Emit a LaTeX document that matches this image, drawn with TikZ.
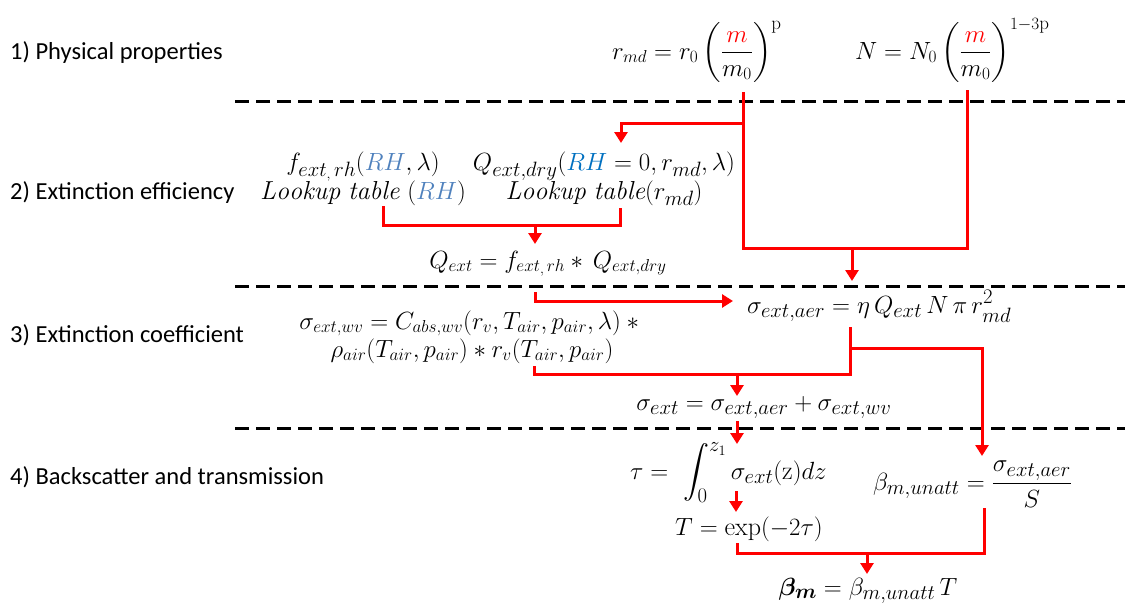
\documentclass[tikz,border=0pt]{standalone}
\usepackage{amsmath,amssymb,bm}
\usepackage{fontspec}
\newfontfamily\lblfont{Carlito}
\usetikzlibrary{arrows.meta}
\definecolor{rhA}{HTML}{4F81BD}
\definecolor{rhB}{HTML}{0070C0}
\DeclareMathSizes{26}{26}{20}{15}
\DeclareMathSizes{25}{25}{19}{14}
\newcommand{\lowcomma}{{\lower2pt\hbox{$\scriptscriptstyle,$}}}
\tikzset{
  lbl/.style={font=\lblfont\fontsize{24.5}{28}\selectfont, anchor=west, inner sep=0pt},
  eq/.style={font=\fontsize{26}{30}\selectfont, inner sep=0pt, anchor=base},
  eqw/.style={eq, anchor=base west},
  eqtwo/.style={font={\fontsize{26}{29}\selectfont\lineskiplimit=-30pt}, inner sep=0pt, align=center, anchor=center},
  sepline/.style={line width=3pt, dash pattern=on 14pt off 7pt},
  link/.style={red, line width=3pt, line join=miter},
  arr/.style={link, -{Triangle[width=13pt,length=11pt]}},
}
\begin{document}
\begin{tikzpicture}[x=1pt,y=-1pt]
\useasboundingbox (0,0) rectangle (1125,606);

% section labels
\node[lbl] (l1) at (10,53) {1) Physical properties};
\node[lbl] (l2) at (10,193) {2) Extinction efficiency};
\node[lbl] (l3) at (10,335) {3) Extinction coefficient};
\node[lbl] (l4) at (10,477) {4) Backscatter and transmission};

% separators
\coordinate (s1a) at (235,101); \coordinate (s1b) at (1125,101);
\coordinate (s2a) at (235,286); \coordinate (s2b) at (1125,286);
\coordinate (s3a) at (235,428); \coordinate (s3b) at (1125,428);
\draw[sepline] (s1a) -- (s1b);
\draw[sepline] (s2a) -- (s2b);
\draw[sepline] (s3a) -- (s3b);

% equations
\node[eqw, font=\fontsize{25}{30}\selectfont] (rmd) at (612,59) {$\displaystyle r_{md} = r_0\left(\frac{\textcolor{red}{m}}{m_0}\right)^{\mathrm{p}}$};
\node[eqw, font=\fontsize{25}{30}\selectfont] (num) at (855,59) {$\displaystyle N = N_0\left(\frac{\textcolor{red}{m}}{m_0}\right)^{1-3\mathrm{p}}$};

\node[eqtwo] (frh) at (363,179) {$f_{ext\lowcomma\,rh}(\textcolor{rhA}{RH},\lambda)$\\ $\mathit{Lookup\ table}\ (\textcolor{rhA}{RH})$};
\node[eqtwo] (qd) at (604,179) {$Q_{ext,dry}(\textcolor{rhB}{RH}=0,r_{md},\lambda)$\\ $\mathit{Lookup\ table}(r_{md})$};
\node[eq, font=\fontsize{25}{30}\selectfont] (qext) at (548,268) {$Q_{ext} = f_{ext\lowcomma\,rh} \ast\, Q_{ext,dry}$};

\node[eqw] (aer) at (747,313) {$\sigma_{ext,aer} = \eta\, Q_{ext}\, N\, \pi\, r_{md}^2$};
\node[eqtwo, font={\fontsize{25}{28}\selectfont\lineskiplimit=-30pt}] (wv) at (472,337) {$\sigma_{ext,wv} = C_{abs,wv}(r_v,T_{air},p_{air},\lambda)\ast{}$\\ $\rho_{air}(T_{air},p_{air})\ast r_v(T_{air},p_{air})$};
\node[eq] (sext) at (764,410) {$\sigma_{ext} = \sigma_{ext,aer} + \sigma_{ext,wv}$};

\node[eqw] (tau) at (630,479) {$\displaystyle \tau =\ \int_0^{z_1}\sigma_{ext}(\mathrm{z})dz$};
\node[eq] (tT) at (749,535) {$T = \exp(-2\tau)$};
\node[eqw] (bun) at (873,490) {$\displaystyle \beta_{m,unatt} = \frac{\sigma_{ext,aer}}{S}$};
\node[eq] (bm) at (868,595) {$\boldsymbol{\beta}_{\boldsymbol{m}} = \beta_{m,unatt}\,T$};

% connector points
\coordinate (rA) at (743,92);
\coordinate (nA) at (967,90);
\coordinate (jA) at (743,248);
\coordinate (jB) at (967,248);
\coordinate (mA) at (852,248);
\coordinate (mB) at (852,281);
\coordinate (bA) at (743,123);
\coordinate (bB) at (621,123);
\coordinate (bC) at (621,143);

\coordinate (fA) at (383,206);
\coordinate (fB) at (383,225);
\coordinate (fC) at (620,225);
\coordinate (fD) at (620,208);
\coordinate (fM) at (535,225);
\coordinate (fN) at (535,244);

\coordinate (qA) at (535,292);
\coordinate (qB) at (535,301);
\coordinate (qC) at (733,301);

\coordinate (wA) at (534,366);
\coordinate (wB) at (534,374);
\coordinate (wC) at (850,374);
\coordinate (wD) at (850,327);
\coordinate (wM) at (737,374);
\coordinate (wN) at (737,396);
\coordinate (aB) at (850,348);
\coordinate (aC) at (982,348);
\coordinate (aD) at (982,456);

\coordinate (sA) at (737,421);
\coordinate (sB) at (737,444);
\coordinate (tA) at (736,491);
\coordinate (tB) at (736,512);

\coordinate (eA) at (737,543);
\coordinate (eB) at (737,553);
\coordinate (eC) at (984,553);
\coordinate (eD) at (984,508);
\coordinate (eM) at (867,553);
\coordinate (eN) at (867,574);

% connectors
\draw[link] (rA) -- (jA) -- (jB) -- (nA);
\draw[arr] (mA) -- (mB);
\draw[arr] (bA) -- (bB) -- (bC);

\draw[link] (fA) -- (fB) -- (fC) -- (fD);
\draw[arr] (fM) -- (fN);

\draw[arr] (qA) -- (qB) -- (qC);

\draw[link] (wA) -- (wB) -- (wC) -- (wD);
\draw[arr] (wM) -- (wN);
\draw[arr] (aB) -- (aC) -- (aD);

\draw[arr] (sA) -- (sB);
\draw[arr] (tA) -- (tB);

\draw[link] (eA) -- (eB) -- (eC) -- (eD);
\draw[arr] (eM) -- (eN);
\end{tikzpicture}
\end{document}
